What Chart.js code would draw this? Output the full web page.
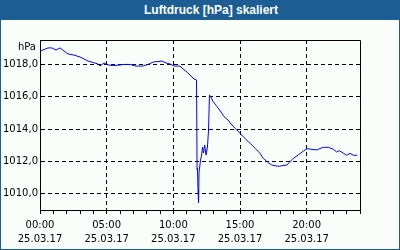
<!DOCTYPE html>
<html><head><meta charset="utf-8">
<script src="https://cdn.jsdelivr.net/npm/chart.js@4"></script>
<style>
html,body{margin:0;padding:0;background:#fff;}
#wrap{position:relative;width:400px;height:250px;background:#fafefa;overflow:hidden;}
#title{position:absolute;left:0;top:0;width:400px;height:20px;background:#1c5e94;color:#fff;font:bold 12px "Liberation Sans",Arial,sans-serif;line-height:20px;text-align:center;z-index:2;}
#title span{position:relative;left:11px;}
.b{position:absolute;background:#1c5e94;z-index:2;}
canvas{position:absolute;left:0;top:0;}
</style></head><body>
<div id="wrap">
<div id="title"><span>Luftdruck [hPa] skaliert</span></div>
<div class="b" style="left:0;top:0;width:1px;height:250px"></div>
<div class="b" style="right:0;top:0;width:1px;height:250px"></div>
<div class="b" style="left:0;bottom:0;width:400px;height:1px"></div>
<canvas id="c" width="400" height="250"></canvas>
</div>
<script>
// time of day in hours (25.03.17)
const hours = [0.00,0.3,0.6,0.9,1.2,1.5,1.8,2.1,2.55,3.0,3.3,3.6,3.98,4.35,4.5,4.8,5.1,5.4,5.7,6.3,6.75,7.2,7.7,8.1,8.5,8.85,9.15,9.45,9.75,10.05,10.5,10.73,11.03,11.25,11.55,11.74,11.78,11.81,11.85,11.89,11.93,12.04,12.11,12.19,12.26,12.35,12.45,12.56,12.64,12.71,12.79,12.98,13.28,13.58,13.8,14.1,14.33,14.63,15.0,15.3,15.62,15.9,16.13,16.5,16.75,17.12,17.38,17.7,17.95,18.22,18.52,18.68,19.0,19.37,19.75,20.05,20.4,20.78,21.0,21.25,21.62,22.0,22.25,22.45,22.73,23.0,23.25,23.5,23.8];
// air pressure in hPa
const pressure = [1018.82,1018.91,1019.01,1019.01,1018.88,1019.01,1018.82,1018.64,1018.57,1018.45,1018.33,1018.20,1018.11,1018.02,1017.89,1018.08,1017.96,1017.93,1017.93,1017.99,1017.99,1017.89,1017.89,1017.99,1018.14,1018.17,1018.20,1018.08,1018.02,1017.89,1017.89,1017.71,1017.52,1017.34,1017.09,1017.03,1011.47,1011.59,1010.24,1009.46,1011.35,1012.09,1012.34,1012.89,1012.52,1013.01,1012.40,1012.89,1013.94,1016.10,1016.04,1015.69,1015.39,1015.05,1014.77,1014.56,1014.31,1014.05,1013.74,1013.48,1013.22,1013.01,1012.81,1012.50,1012.19,1011.92,1011.78,1011.72,1011.70,1011.75,1011.78,1011.92,1012.19,1012.40,1012.64,1012.79,1012.74,1012.71,1012.80,1012.87,1012.87,1012.75,1012.58,1012.66,1012.52,1012.38,1012.50,1012.38,1012.38];
const yTicks = [1010,1012,1014,1016,1018];
const xTickHours = [0,1,2,3,4,5,6,7,8,9,10,11,12,13,14,15,16,17,18,19,20,21,22,23,24];
const xLabelHours = [0,5,10,15,20];
const dateLabel = '25.03.17';
const unitLabel = 'hPa';

const points = hours.map((h,i)=>({x:h,y:pressure[i]}));
const FONT = {family:'"DejaVu Sans", Verdana, sans-serif', size:10};

const framePlugin = {
  id:'frame',
  afterDraw(chart){
    const {ctx, chartArea:a} = chart;
    ctx.save();
    ctx.strokeStyle = '#000';
    ctx.lineWidth = 1;
    ctx.beginPath();
    ctx.moveTo(a.left+0.5, a.top+0.5);
    ctx.lineTo(a.right+0.5, a.top+0.5);
    ctx.lineTo(a.right+0.5, a.bottom+0.5);
    ctx.stroke();
    ctx.fillStyle = '#000';
    ctx.font = '10px "DejaVu Sans", Verdana, sans-serif';
    ctx.textAlign = 'right';
    ctx.textBaseline = 'middle';
    ctx.fillText(unitLabel, a.left-4, a.top+7);
    ctx.restore();
  }
};

Chart.defaults.color = '#000';
new Chart(document.getElementById('c'), {
  type:'line',
  data:{datasets:[{data:points,borderColor:'#0000ff',borderWidth:1,pointRadius:0,tension:0,fill:false}]},
  options:{
    responsive:false, animation:false, devicePixelRatio:1,
    layout:{padding:{top:40,right:40,left:0,bottom:0}},
    plugins:{legend:{display:false},tooltip:{enabled:false},title:{display:false}},
    scales:{
      x:{
        type:'linear', min:0, max:24,
        afterBuildTicks:(s)=>{s.ticks = xTickHours.map(v=>({value:v}));},
        afterFit:(s)=>{s.height = 40;},
        grid:{
          color:(c)=> (c.tick && c.tick.value%5===0 && c.tick.value!==0) ? '#000' : 'rgba(0,0,0,0)',
          tickColor:'#000', tickLength:4, tickWidth:1, tickBorderDash:[], lineWidth:1
        },
        border:{display:true,color:'#000',width:1,dash:[4,3]},
        ticks:{
          autoSkip:false, maxRotation:0, minRotation:0, padding:4, color:'#000',
          font:{...FONT, lineHeight:1.4},
          callback:(v)=> xLabelHours.includes(v) ? [String(v).padStart(2,'0')+':00', dateLabel] : ''
        }
      },
      y:{
        type:'linear', min:1009, max:1019.5,
        afterBuildTicks:(s)=>{s.ticks = yTicks.map(v=>({value:v}));},
        afterFit:(s)=>{s.width = 40;},
        grid:{color:'#000', drawTicks:false, lineWidth:1},
        border:{display:true,color:'#000',width:1,dash:[4,3]},
        ticks:{
          padding:2, color:'#000', font:FONT,
          callback:(v)=> v.toFixed(1).replace('.',',')
        }
      }
    }
  },
  plugins:[framePlugin]
});
</script>
</body></html>
